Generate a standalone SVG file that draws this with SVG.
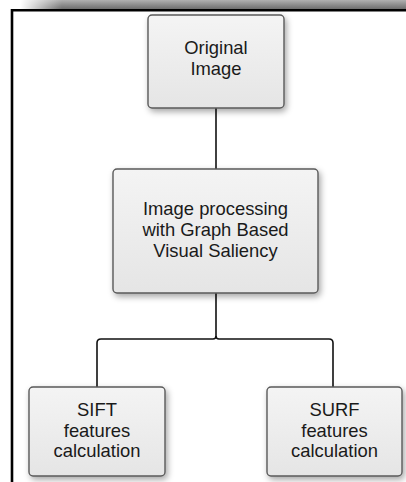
<svg xmlns="http://www.w3.org/2000/svg" width="406" height="482" viewBox="0 0 406 482">
  <defs>
    <linearGradient id="bandV" x1="0" y1="0" x2="0" y2="1">
      <stop offset="0" stop-color="#b0b0b0"/>
      <stop offset="1" stop-color="#6a6a6a"/>
    </linearGradient>
    <linearGradient id="bandFade" x1="0" y1="0" x2="1" y2="0">
      <stop offset="0" stop-color="#fff" stop-opacity="1"/>
      <stop offset="1" stop-color="#fff" stop-opacity="0"/>
    </linearGradient>
    <linearGradient id="boxFill" x1="0" y1="0" x2="0" y2="1">
      <stop offset="0" stop-color="#f4f4f4"/>
      <stop offset="1" stop-color="#e5e5e5"/>
    </linearGradient>
    <filter id="shadow" x="-20%" y="-20%" width="150%" height="150%">
      <feDropShadow dx="2" dy="3" stdDeviation="3" flood-color="#000" flood-opacity="0.35"/>
    </filter>
    <style>
      .box { fill: url(#boxFill); stroke: #5a5a5a; stroke-width: 1.4; filter: url(#shadow); }
      .lbl { font-family: "Liberation Sans", Arial, sans-serif; font-size: 18.4px; fill: #1a1a1a; text-anchor: middle; }
      .conn { fill: none; stroke: #111; stroke-width: 1.6; }
      .frame { fill: none; stroke: #000; stroke-width: 2.6; }
    </style>
  </defs>

  <rect width="406" height="482" fill="#fff"/>

  <!-- header band -->
  <rect x="20" y="0" width="386" height="9.5" fill="url(#bandV)"/>
  <rect x="20" y="0" width="42" height="9.5" fill="url(#bandFade)"/>

  <!-- frame edges -->
  <path class="frame" d="M12,482 V10.3 H406"/>

  <!-- connectors -->
  <g id="connectors">
    <path class="conn" d="M216,108 V169"/>
    <path class="conn" d="M216,293 V336 Q216,339 213,339 H101 Q97,339 97,343 V387"/>
    <path class="conn" d="M216,336 Q216,339 219,339 H329 Q333,339 333,343 V387"/>
  </g>

  <g id="node-original">
    <rect class="box" x="148" y="15" width="136" height="93" rx="4"/>
    <text class="lbl" x="216" y="54">Original</text>
    <text class="lbl" x="216" y="74.5">Image</text>
  </g>

  <g id="node-gbvs">
    <rect class="box" x="113" y="169" width="205" height="124" rx="4"/>
    <text class="lbl" x="215.5" y="215">Image processing</text>
    <text class="lbl" x="215.5" y="236">with Graph Based</text>
    <text class="lbl" x="215.5" y="257">Visual Saliency</text>
  </g>

  <g id="node-sift">
    <rect class="box" x="29" y="387" width="136" height="89" rx="4"/>
    <text class="lbl" x="97" y="416">SIFT</text>
    <text class="lbl" x="97" y="437">features</text>
    <text class="lbl" x="97" y="457">calculation</text>
  </g>

  <g id="node-surf">
    <rect class="box" x="267" y="387" width="135" height="89" rx="4"/>
    <text class="lbl" x="334.5" y="416">SURF</text>
    <text class="lbl" x="334.5" y="437">features</text>
    <text class="lbl" x="334.5" y="457">calculation</text>
  </g>
</svg>
